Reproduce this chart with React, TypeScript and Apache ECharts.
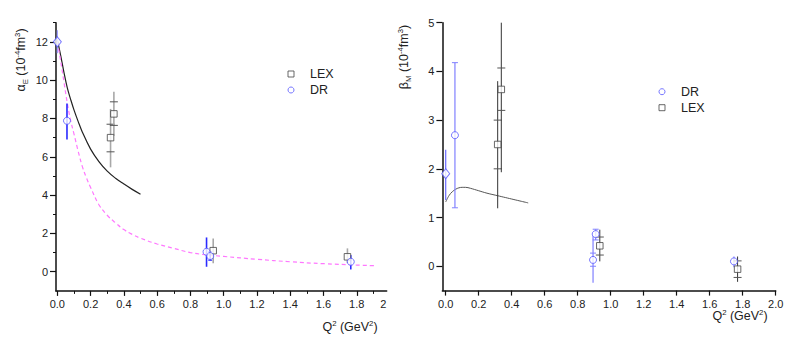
import React, { useEffect, useRef } from "react";
import * as echarts from "echarts";

const FONT = "'Liberation Sans', Arial, Helvetica, sans-serif";

// ---------- alpha_E panel (left) ----------
const alphaSolidQ2 = [0, 0.02, 0.04, 0.06, 0.08, 0.1, 0.125, 0.15, 0.2, 0.25, 0.3, 0.35, 0.4, 0.45, 0.5];
const alphaSolidVal = [12.1, 11.3, 10.4, 9.6, 9.0, 8.45, 7.85, 7.3, 6.4, 5.75, 5.25, 4.88, 4.58, 4.3, 4.05];
const alphaDashQ2 = [0, 0.02, 0.04, 0.06, 0.08, 0.1, 0.125, 0.15, 0.175, 0.2, 0.25, 0.3, 0.35, 0.4, 0.45, 0.5, 0.6, 0.7, 0.8, 0.9, 1.0, 1.2, 1.4, 1.6, 1.8, 1.92];
const alphaDashVal = [12.0, 11.0, 9.9, 8.8, 7.9, 7.2, 6.3, 5.5, 4.9, 4.4, 3.5, 2.95, 2.55, 2.2, 1.95, 1.75, 1.45, 1.22, 1.0, 0.88, 0.8, 0.65, 0.52, 0.42, 0.35, 0.31];
// [Q2, value, total low, total high, stat low, stat high]
const alphaReal = [[0, 12.0, 11.4, 12.6, null, null]];
const alphaDR = [
  [0.058, 7.88, 6.9, 8.78, null, null],
  [0.897, 1.04, 0.26, 1.79, null, null],
  [0.919, 0.82, 0.6, 1.05, 0.6, 1.05],
  [1.764, 0.52, 0.12, 0.87, null, null],
];
const alphaLEX = [
  [0.32, 7.0, 5.45, 8.5, 6.26, 7.7],
  [0.34, 8.24, 7.1, 9.39, 7.64, 8.87],
  [0.937, 1.1, 0.44, 1.74, null, null],
  [1.744, 0.78, 0.45, 1.22, null, null],
];
const alphaXMajor = [0, 0.2, 0.4, 0.6, 0.8, 1.0, 1.2, 1.4, 1.6, 1.8];
const alphaXLabels = [0, 0.2, 0.4, 0.6, 0.8, 1.0, 1.2, 1.4, 1.6, 1.8, 1.96];
const alphaXMinor = [0.1, 0.3, 0.5, 0.7, 0.9, 1.1, 1.3, 1.5, 1.7, 1.9];
const alphaYMajor = [0, 2, 4, 6, 8, 10, 12];
const alphaYMinor = [1, 3, 5, 7, 9, 11, 13];

// ---------- beta_M panel (right) ----------
const betaSolidQ2 = [0, 0.02, 0.04, 0.06, 0.08, 0.1, 0.12, 0.15, 0.2, 0.25, 0.3, 0.35, 0.4, 0.45, 0.5];
const betaSolidVal = [1.32, 1.45, 1.53, 1.58, 1.61, 1.62, 1.62, 1.6, 1.55, 1.5, 1.46, 1.42, 1.38, 1.34, 1.3];
const betaReal = [[0, 1.9, 1.36, 2.39, null, null]];
const betaDR = [
  [0.056, 2.69, 1.2, 4.18, 1.2, 4.18],
  [0.893, 0.13, -0.34, 0.62, 0.0, 0.27],
  [0.909, 0.66, 0.54, 0.76, 0.54, 0.76],
  [1.747, 0.1, -0.02, 0.2, null, null],
];
const betaLEX = [
  [0.315, 2.5, 1.19, 3.8, 2.0, 3.0],
  [0.337, 3.63, 1.93, 5.0, 3.2, 4.07],
  [0.934, 0.42, 0.1, 0.75, 0.23, 0.6],
  [1.769, -0.06, -0.32, 0.2, -0.23, 0.11],
];
const betaXMajor = [0, 0.2, 0.4, 0.6, 0.8, 1.0, 1.2, 1.4, 1.6, 1.8, 2.0];
const betaYMajor = [0, 1, 2, 3, 4, 5];

function errorBars(color: string, capColor: string, capW: number, lineW: number) {
  return (_params: any, api: any) => {
    const x = api.value(0);
    const lo = api.coord([x, api.value(2)]);
    const hi = api.coord([x, api.value(3)]);
    const children: any[] = [
      {
        type: "line",
        shape: { x1: lo[0], y1: lo[1], x2: hi[0], y2: hi[1] },
        style: { stroke: color, lineWidth: lineW },
      },
    ];
    [4, 5].forEach((d) => {
      const v = api.value(d);
      if (v !== null && v !== undefined && !isNaN(v)) {
        const p = api.coord([x, v]);
        children.push({
          type: "line",
          shape: { x1: p[0] - capW, y1: p[1], x2: p[0] + capW, y2: p[1] },
          style: { stroke: capColor, lineWidth: 1 },
        });
      }
    });
    return { type: "group", children };
  };
}

const axisText = { color: "#222", fontSize: 11, fontFamily: FONT };
const axisLineStyle = { show: true, onZero: false, lineStyle: { color: "#111", width: 1.5 } };

function titleRich(size: number) {
  return {
    n: { fontSize: size, fontFamily: FONT, fill: "#222", lineHeight: 16 },
    sub: { fontSize: size * 0.62, fontFamily: FONT, fill: "#222", lineHeight: 7, verticalAlign: "bottom" },
    sup: { fontSize: size * 0.62, fontFamily: FONT, fill: "#222", lineHeight: 7, verticalAlign: "top" },
  };
}

const legendText = { color: "#222", fontSize: 12.5, fontFamily: FONT, lineHeight: 14, padding: [0, 0, 0, 11] };

export default function App() {
  const ref = useRef<HTMLDivElement>(null);
  useEffect(() => {
    if (!ref.current) return;
    const chart = echarts.init(ref.current, undefined, { renderer: "svg" });
    const pair = (xs: number[], ys: number[]) => xs.map((x, i) => [x, ys[i]]);

    const option: any = {
      animation: false,
      backgroundColor: "#fff",
      grid: [
        { left: 56, top: 22.7, width: 330.7, height: 268.2 },
        { left: 442.4, top: 22.7, width: 333.3, height: 267.9 },
      ],
      xAxis: [
        {
          gridIndex: 0, type: "value", min: -0.008, max: 1.98, position: "bottom",
          axisLine: axisLineStyle,
          axisTick: { show: true, customValues: alphaXMajor, length: 5, lineStyle: { color: "#111", width: 1.2 } },
          axisLabel: {
            ...axisText, margin: 8, customValues: alphaXLabels,
            formatter: (v: number) => (v > 1.9 ? "2" : v.toFixed(1)),
          },
          splitLine: { show: false },
        },
        {
          gridIndex: 0, type: "value", min: -0.008, max: 1.98, position: "bottom",
          axisLine: { show: false, onZero: false },
          axisTick: { show: true, customValues: alphaXMinor, length: 3, lineStyle: { color: "#111", width: 1 } },
          axisLabel: { show: false },
          splitLine: { show: false },
        },
        {
          gridIndex: 1, type: "value", min: -0.02, max: 2.0, position: "bottom",
          axisLine: axisLineStyle,
          axisTick: { show: true, customValues: betaXMajor, length: 5, lineStyle: { color: "#111", width: 1.2 } },
          axisLabel: { ...axisText, margin: 8, customValues: betaXMajor, formatter: (v: number) => v.toFixed(1) },
          splitLine: { show: false },
        },
      ],
      yAxis: [
        {
          gridIndex: 0, type: "value", min: -1, max: 13, position: "left",
          axisLine: axisLineStyle,
          axisTick: { show: true, customValues: alphaYMajor, length: 6, lineStyle: { color: "#111", width: 1.2 } },
          axisLabel: { ...axisText, margin: 8, customValues: alphaYMajor, formatter: (v: number) => String(v) },
          splitLine: { show: false },
        },
        {
          gridIndex: 0, type: "value", min: -1, max: 13, position: "left",
          axisLine: { show: false, onZero: false },
          axisTick: { show: true, customValues: alphaYMinor, length: 3, lineStyle: { color: "#111", width: 1 } },
          axisLabel: { show: false },
          splitLine: { show: false },
        },
        {
          gridIndex: 1, type: "value", min: -0.5, max: 5, position: "left",
          axisLine: axisLineStyle,
          axisTick: { show: true, customValues: betaYMajor, length: 6, lineStyle: { color: "#111", width: 1.2 } },
          axisLabel: { ...axisText, margin: 8, customValues: betaYMajor, formatter: (v: number) => String(v) },
          splitLine: { show: false },
        },
      ],
      legend: [
        {
          orient: "vertical", left: 282.5, top: 62, itemWidth: 6, itemHeight: 6, itemGap: 2,
          data: ["LEX", "DR"], selectedMode: false, textStyle: legendText,
          itemStyle: { borderWidth: 1 },
        },
        {
          orient: "vertical", left: 653.5, top: 79.7, itemWidth: 6, itemHeight: 6, itemGap: 2,
          data: ["DR", "LEX"], selectedMode: false, textStyle: legendText,
          itemStyle: { borderWidth: 1 },
        },
      ],
      series: [
        // left panel curves
        {
          name: "alpha-solid", type: "line", xAxisIndex: 0, yAxisIndex: 0, data: pair(alphaSolidQ2, alphaSolidVal),
          showSymbol: false, smooth: 0.4, lineStyle: { color: "#222", width: 1.2 }, z: 2,
        },
        {
          name: "alpha-dash", type: "line", xAxisIndex: 0, yAxisIndex: 0, data: pair(alphaDashQ2, alphaDashVal),
          showSymbol: false, smooth: 0.4, lineStyle: { color: "#ff77ff", width: 1.2, type: [4, 3] }, z: 2,
        },
        // left panel error bars
        {
          name: "alpha-real-err", type: "custom", xAxisIndex: 0, yAxisIndex: 0, data: alphaReal,
          renderItem: errorBars("#9a9aff", "#9a9aff", 2, 1.2), z: 3,
        },
        {
          name: "alpha-dr-err", type: "custom", xAxisIndex: 0, yAxisIndex: 0, data: alphaDR,
          renderItem: errorBars("#2a2aff", "#2a2aff", 2, 1.6), z: 3,
        },
        {
          name: "alpha-lex-err", type: "custom", xAxisIndex: 0, yAxisIndex: 0, data: alphaLEX,
          renderItem: errorBars("#a8a8a8", "#555", 4, 1.6), z: 3,
        },
        // left panel markers
        {
          name: "alpha-real", type: "scatter", xAxisIndex: 0, yAxisIndex: 0, data: alphaReal.map((d) => [d[0], d[1]]),
          symbol: "diamond", symbolSize: [8, 10],
          itemStyle: { color: "#fff", borderColor: "#5555ff", borderWidth: 1 }, z: 5,
        },
        {
          name: "DR", type: "scatter", xAxisIndex: 0, yAxisIndex: 0, data: alphaDR.map((d) => [d[0], d[1]]),
          symbol: "circle", symbolSize: 7,
          itemStyle: { color: "#fff", borderColor: "#5555ff", borderWidth: 1 }, z: 5,
        },
        {
          name: "LEX", type: "scatter", xAxisIndex: 0, yAxisIndex: 0, data: alphaLEX.map((d) => [d[0], d[1]]),
          symbol: "rect", symbolSize: 6.5,
          itemStyle: { color: "#fff", borderColor: "#444", borderWidth: 1 }, z: 4,
        },
        // right panel curve
        {
          name: "beta-solid", type: "line", xAxisIndex: 2, yAxisIndex: 2, data: pair(betaSolidQ2, betaSolidVal),
          showSymbol: false, smooth: 0.4, lineStyle: { color: "#555", width: 1 }, z: 2,
        },
        // right panel error bars
        {
          name: "beta-real-err", type: "custom", xAxisIndex: 2, yAxisIndex: 2, data: betaReal,
          renderItem: errorBars("#6a6aff", "#6a6aff", 2, 1.2), z: 3,
        },
        {
          name: "beta-dr-err", type: "custom", xAxisIndex: 2, yAxisIndex: 2, data: betaDR,
          renderItem: errorBars("#8080ff", "#8080ff", 3, 1.2), z: 3,
        },
        {
          name: "beta-lex-err", type: "custom", xAxisIndex: 2, yAxisIndex: 2, data: betaLEX,
          renderItem: errorBars("#333", "#555", 4, 1), z: 3,
        },
        // right panel markers
        {
          name: "beta-real", type: "scatter", xAxisIndex: 2, yAxisIndex: 2, data: betaReal.map((d) => [d[0], d[1]]),
          symbol: "diamond", symbolSize: [8, 10],
          itemStyle: { color: "#fff", borderColor: "#5555ff", borderWidth: 1 }, z: 5,
        },
        {
          name: "DR", type: "scatter", xAxisIndex: 2, yAxisIndex: 2, data: betaDR.map((d) => [d[0], d[1]]),
          symbol: "circle", symbolSize: 7,
          itemStyle: { color: "#fff", borderColor: "#5555ff", borderWidth: 1 }, z: 5,
        },
        {
          name: "LEX", type: "scatter", xAxisIndex: 2, yAxisIndex: 2, data: betaLEX.map((d) => [d[0], d[1]]),
          symbol: "rect", symbolSize: 6.5,
          itemStyle: { color: "#fff", borderColor: "#444", borderWidth: 1 }, z: 4,
        },
      ],
      graphic: [
        {
          type: "text", x: 21, y: 60, rotation: Math.PI / 2,
          style: {
            text: "{n|α}{sub|E}{n| (10}{sup|-4}{n|fm}{sup|3}{n|)}",
            rich: titleRich(12.5), align: "center", verticalAlign: "middle",
          },
        },
        {
          type: "text", x: 404, y: 57, rotation: Math.PI / 2,
          style: {
            text: "{n|β}{sub|M}{n| (10}{sup|-4}{n|fm}{sup|3}{n|)}",
            rich: titleRich(12.5), align: "center", verticalAlign: "middle",
          },
        },
        {
          type: "text", x: 350, y: 327,
          style: {
            text: "{n|Q}{sup|2}{n| (GeV}{sup|2}{n|)}",
            rich: titleRich(12.5), align: "center", verticalAlign: "middle",
          },
        },
        {
          type: "text", x: 740, y: 316,
          style: {
            text: "{n|Q}{sup|2}{n| (GeV}{sup|2}{n|)}",
            rich: titleRich(12.5), align: "center", verticalAlign: "middle",
          },
        },
      ],
    };
    chart.setOption(option);
    return () => chart.dispose();
  }, []);
  return <div ref={ref} style={{ position: "fixed", left: 0, top: 0, width: 790, height: 339 }} />;
}
